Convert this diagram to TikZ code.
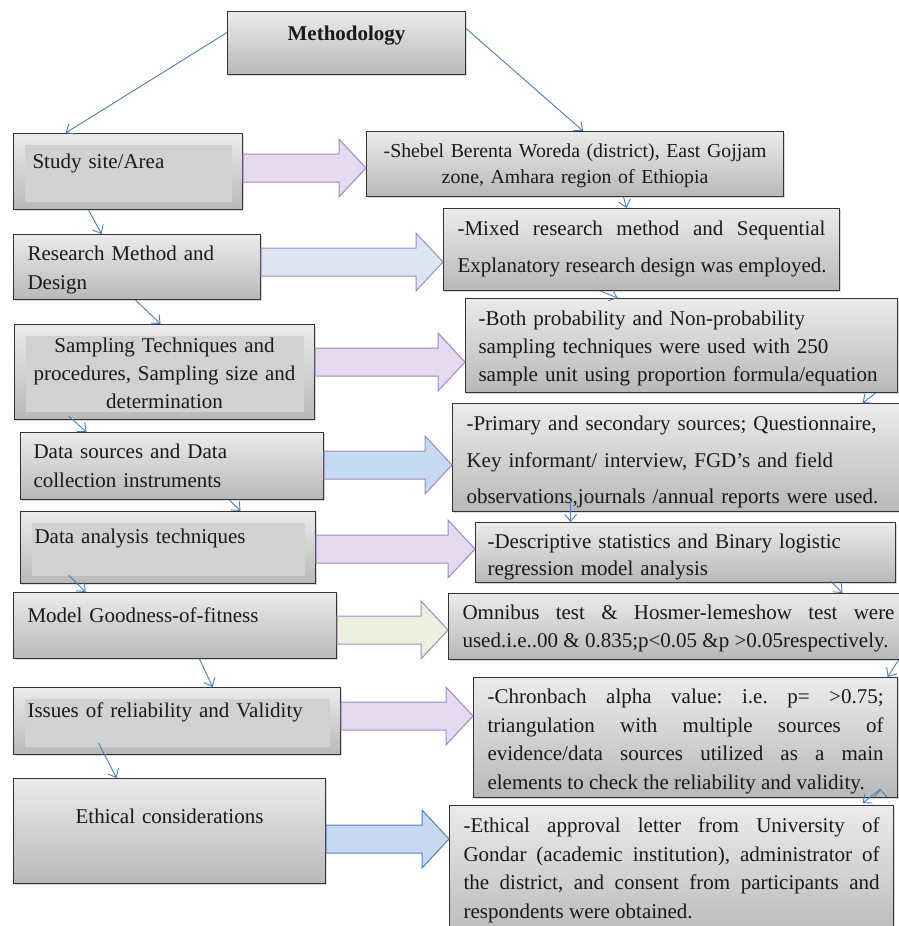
\documentclass[tikz,border=0pt]{standalone}
\usepackage{fontspec}
\setmainfont{Liberation Serif}
\usetikzlibrary{arrows.meta,shadows,calc}

\definecolor{boxtop}{HTML}{EBEBEB}
\definecolor{boxbot}{HTML}{B8B8B8}
\definecolor{panelgray}{HTML}{D0D1D3}
\definecolor{linkblue}{HTML}{4A7EBB}
\definecolor{lilac}{HTML}{E4D9EE}
\definecolor{lilacline}{HTML}{9F8AC3}
\definecolor{iceblue}{HTML}{DCE6F2}
\definecolor{skyblue}{HTML}{C5D9F1}
\definecolor{pistachio}{HTML}{EBF1DE}
\definecolor{steel}{HTML}{C6D9F0}
\definecolor{steelline}{HTML}{4F81BD}

\hyphenpenalty=10000
\frenchspacing

\tikzset{
	box/.style={draw=black!80,line width=1.1pt,top color=boxtop,bottom color=boxbot,anchor=north west,inner ysep=0pt,
		text=black!90,font=\fontsize{21}{28}\selectfont,drop shadow={opacity=0.3,shadow xshift=1.5pt,shadow yshift=-1.5pt}},
	panel/.style={path picture={\fill[panelgray] ([shift={(11pt,-11pt)}]path picture bounding box.north west) rectangle ([shift={(-11pt,8pt)}]path picture bounding box.south east);}},
	link/.style={draw=linkblue,line width=0.9pt,-{Straight Barb[length=7pt,width=12pt]}},
	fat/.style={line width=1pt,line join=miter}
}

\begin{document}
\begin{tikzpicture}[x=1pt,y=-1pt]
	\useasboundingbox (0,0) rectangle (899,926);

	\node[box,text width=218pt,inner xsep=10pt,align=center,text height=29pt,text depth=34pt,font=\fontsize{21}{28}\selectfont\bfseries] (L0) at (227,11) {Methodology};

	\node[box,panel,text width=191pt,inner xsep=19pt,align=left,text height=35pt,text depth=41pt] (L1) at (13,133) {Study site/Area};
	\node[box,text width=219pt,inner xsep=14pt,align=left,text height=26pt,text depth=39pt,font=\fontsize{21}{29}\selectfont] (L2) at (13,234) {\mbox{Research Method and}\\\mbox{Design}};
	\node[box,panel,text width=280pt,inner xsep=10pt,align=center,text height=28pt,text depth=67pt] (L3) at (14,324) {\mbox{Sampling Techniques and}\\\mbox{procedures, Sampling size and}\\\mbox{determination}};
	\node[box,text width=277pt,inner xsep=13pt,align=left,text height=26pt,text depth=41pt,font=\fontsize{21}{29}\selectfont] (L4) at (20,432) {\mbox{Data sources and Data}\\\mbox{collection instruments}};
	\node[box,panel,text width=267pt,inner xsep=14pt,align=left,text height=32pt,text depth=40pt] (L5) at (20,511) {Data analysis techniques};
	\node[box,text width=295pt,inner xsep=14pt,align=left,text height=30pt,text depth=36pt] (L6) at (13,592) {Model Goodness-of-fitness};
	\node[box,panel,text width=299pt,inner xsep=14pt,align=left,text height=30pt,text depth=37pt] (L7) at (13,687) {Issues of reliability and Validity};
	\node[box,text width=292pt,inner xsep=10pt,align=center,text height=45pt,text depth=60pt] (L8) at (13,778) {Ethical considerations};

	\node[box,text width=397pt,inner xsep=10pt,align=center,text height=26pt,text depth=39pt,font=\fontsize{19.8}{26}\selectfont] (R1) at (366,131) {\mbox{-Shebel Berenta Woreda (district), East Gojjam}\\\mbox{zone, Amhara region of Ethiopia}};
	\node[box,text width=368pt,inner xsep=14pt,align=justify,text height=27pt,text depth=55pt,font=\fontsize{21}{37}\selectfont] (R2) at (443,208) {-Mixed research method and Sequential\linebreak \mbox{Explanatory research design was employed.}};
	\node[box,text width=406pt,inner xsep=13pt,align=left,text height=27pt,text depth=67pt] (R3) at (465,298) {\mbox{-Both probability and Non-probability}\\\mbox{sampling techniques were used with 250}\\\mbox{sample unit using proportion formula/equation}};
	\node[box,text width=419pt,inner xsep=14pt,align=left,text height=27pt,text depth=81pt,font=\fontsize{21}{36.5}\selectfont] (R4) at (452,403) {\mbox{-Primary and secondary sources; Questionnaire,}\\\mbox{Key informant/ interview, FGD’s and field}\\\mbox{observations,journals /annual reports were used.}};
	\node[box,text width=396pt,inner xsep=12pt,align=left,text height=26pt,text depth=34pt,font=\fontsize{21}{27}\selectfont] (R5) at (475,522) {\mbox{-Descriptive statistics and Binary logistic}\\\mbox{regression model analysis}};
	\node[box,text width=432pt,inner xsep=14pt,align=justify,text height=26pt,text depth=40pt] (R6) at (448,593) {Omnibus test \& Hosmer-lemeshow test were\linebreak \mbox{used.i.e..00 \& 0.835;p<0.05 \&p >0.05respectively.}};
	\node[box,text width=396pt,inner xsep=14pt,align=justify,text height=26pt,text depth=94pt,font=\fontsize{21}{28.5}\selectfont] (R7) at (473,677) {-Chronbach alpha value: i.e. p= >0.75;\linebreak triangulation with multiple sources of\linebreak evidence/data sources utilized as a main\linebreak \mbox{elements to check the reliability and validity.}};
	\node[box,text width=416pt,inner xsep=14pt,align=justify,text height=27pt,text depth=110pt,font=\fontsize{21}{28.5}\selectfont] (R8) at (449,805) {-Ethical approval letter from University of\linebreak Gondar (academic institution), administrator of\linebreak the district, and consent from participants and\linebreak \mbox{respondents were obtained.}};

	\foreach \k/\yc/\col/\rim in {1/168/lilac/lilacline,2/262/iceblue/lilacline,3/362/lilac/lilacline,4/465/skyblue/lilacline,5/549/lilac/lilacline,6/630/pistachio/lilacline,7/716/lilac/lilacline,8/839/steel/steelline}
		\draw[fat,fill=\col,draw=\rim] let \p1=(L\k.east), \p2=(R\k.west), \p3=(0,\yc) in
			(\x1,\y3+14pt) -- (\x2-27pt,\y3+14pt) -- (\x2-27pt,\y3+29pt) -- (\x2,\y3)
			-- (\x2-27pt,\y3-29pt) -- (\x2-27pt,\y3-14pt) -- (\x1,\y3-14pt) -- cycle;

	\path[link]
		([yshift=10.5pt]L0.west) edge ([xshift=-62.5pt]L1.north)
		([yshift=14.5pt]L0.east) edge ([xshift=8pt]R1.north)
		([xshift=-39.5pt]L1.south) edge ([xshift=-35.5pt]L2.north)
		([xshift=-1.5pt]L2.south) edge ([xshift=-4pt]L3.north)
		([xshift=-96pt,yshift=4pt]L3.south) edge ([xshift=-85.5pt]L4.north)
		([xshift=57.5pt]L4.south) edge ([xshift=72.5pt]L5.north)
		([xshift=-99.5pt,yshift=9pt]L5.south) edge ([xshift=-89.5pt]L6.north)
		([xshift=24.5pt]L6.south) edge ([xshift=35.5pt]L7.north)
		([xshift=-78.5pt,yshift=12pt]L7.south) edge ([xshift=-53pt]L8.north)
		([xshift=48.5pt]R1.south) edge ([xshift=-15pt]R2.north)
		([xshift=-41pt]R2.south) edge ([xshift=-64pt]R3.north)
		([xshift=194pt]R3.south) edge ([xshift=186.5pt]R4.north)
		([xshift=-105.5pt,yshift=11pt]R4.south) edge ([xshift=-115pt]R5.north)
		([xshift=145pt,yshift=2pt]R5.south) edge ([xshift=164pt]R6.north)
		([xshift=220pt]R6.south) edge ([xshift=202pt]R7.north)
		([xshift=195pt,yshift=9pt]R7.south) edge ([xshift=191pt,yshift=2pt]R8.north);
\end{tikzpicture}
\end{document}
